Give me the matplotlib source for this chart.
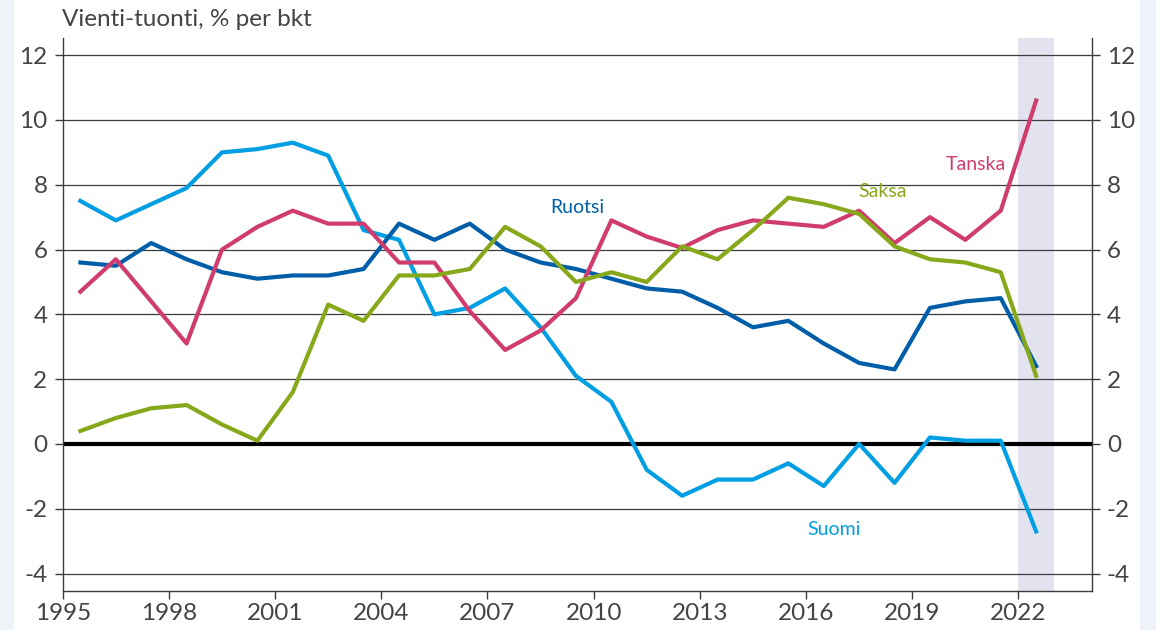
import numpy as np
import matplotlib.pyplot as plt
from matplotlib.patches import Rectangle

plt.rcParams['font.family'] = ['Lato', 'DejaVu Sans']

# vuodet (pisteet piirretaan vuoden keskelle)
vuodet = np.arange(1995, 2023)

suomi = [7.5, 6.9, 7.4, 7.9, 9.0, 9.1, 9.3, 8.9, 6.6, 6.3,
         4.0, 4.2, 4.8, 3.6, 2.1, 1.3, -0.8, -1.6, -1.1, -1.1,
         -0.6, -1.3, 0.0, -1.2, 0.2, 0.1, 0.1, -2.7]
ruotsi = [5.6, 5.5, 6.2, 5.7, 5.3, 5.1, 5.2, 5.2, 5.4, 6.8,
          6.3, 6.8, 6.0, 5.6, 5.4, 5.1, 4.8, 4.7, 4.2, 3.6,
          3.8, 3.1, 2.5, 2.3, 4.2, 4.4, 4.5, 2.4]
tanska = [4.7, 5.7, 4.4, 3.1, 6.0, 6.7, 7.2, 6.8, 6.8, 5.6,
          5.6, 4.1, 2.9, 3.5, 4.5, 6.9, 6.4, 6.05, 6.6, 6.9,
          6.8, 6.7, 7.2, 6.2, 7.0, 6.3, 7.2, 10.6]
saksa = [0.4, 0.8, 1.1, 1.2, 0.6, 0.1, 1.6, 4.3, 3.8, 5.2,
         5.2, 5.4, 6.7, 6.1, 5.0, 5.3, 5.0, 6.1, 5.7, 6.6,
         7.6, 7.4, 7.1, 6.1, 5.7, 5.6, 5.3, 2.1]

x_ticks = [1995, 1998, 2001, 2004, 2007, 2010, 2013, 2016, 2019, 2022]
y_ticks = [-4, -2, 0, 2, 4, 6, 8, 10, 12]

c_suomi = '#009fe3'
c_ruotsi = '#005ea8'
c_tanska = '#d03c6d'
c_saksa = '#86a81a'
harmaa = '#3c3c3c'

fig = plt.figure(figsize=(11.56, 6.3), dpi=100)
fig.patch.set_facecolor('#edf3f8')
fig.patches.append(Rectangle((14/1156, 0), (1140-14)/1156, 1, transform=fig.transFigure,
                             facecolor='white', edgecolor='none', zorder=-10))

ax = fig.add_axes([62.7/1156, 39.3/630, (1091.7-62.7)/1156, (592-39.3)/630])
ax.set_facecolor('none')

x = vuodet + 0.5
ax.axvspan(2022, 2023, color='#e3e3f0', zorder=0, lw=0)

for yt in y_ticks:
    if yt == 0:
        ax.axhline(0, color='black', lw=3, zorder=1)
    else:
        ax.axhline(yt, color=harmaa, lw=0.9, zorder=1)

ax.plot(x, suomi, color=c_suomi, lw=3, zorder=3)
ax.plot(x, ruotsi, color=c_ruotsi, lw=3, zorder=3)
ax.plot(x, tanska, color=c_tanska, lw=3, zorder=3)
ax.plot(x, saksa, color=c_saksa, lw=3, zorder=3)

ax.set_xlim(1995, 2024.07)
ax.set_ylim(-4.53, 12.53)
ax.set_xticks(x_ticks)
ax.set_yticks(y_ticks)
ax.set_yticklabels([str(v) for v in y_ticks])

ax.spines['top'].set_visible(False)
for s in ['left', 'right', 'bottom']:
    ax.spines[s].set_color(harmaa)
    ax.spines[s].set_linewidth(1.0)

ax.tick_params(axis='both', direction='out', length=6, width=1, color=harmaa,
               labelsize=17.5, labelcolor='#444444')
ax.tick_params(axis='y', right=True, labelright=True, pad=5)
ax.tick_params(axis='x', pad=3)

# nimet
ax.text(2009.55, 7.3, 'Ruotsi', color=c_ruotsi, fontsize=14, ha='center', va='center')
ax.text(2020.8, 8.64, 'Tanska', color=c_tanska, fontsize=14, ha='center', va='center')
ax.text(2018.15, 7.78, 'Saksa', color=c_saksa, fontsize=14, ha='center', va='center')
ax.text(2016.8, -2.65, 'Suomi', color=c_suomi, fontsize=14, ha='center', va='center')

fig.text(62/1156, 1 - 20/630, 'Vienti-tuonti, % per bkt', color='#444444', fontsize=17.5,
         ha='left', va='center')

fig.savefig('out.png', dpi=100, facecolor=fig.get_facecolor())
